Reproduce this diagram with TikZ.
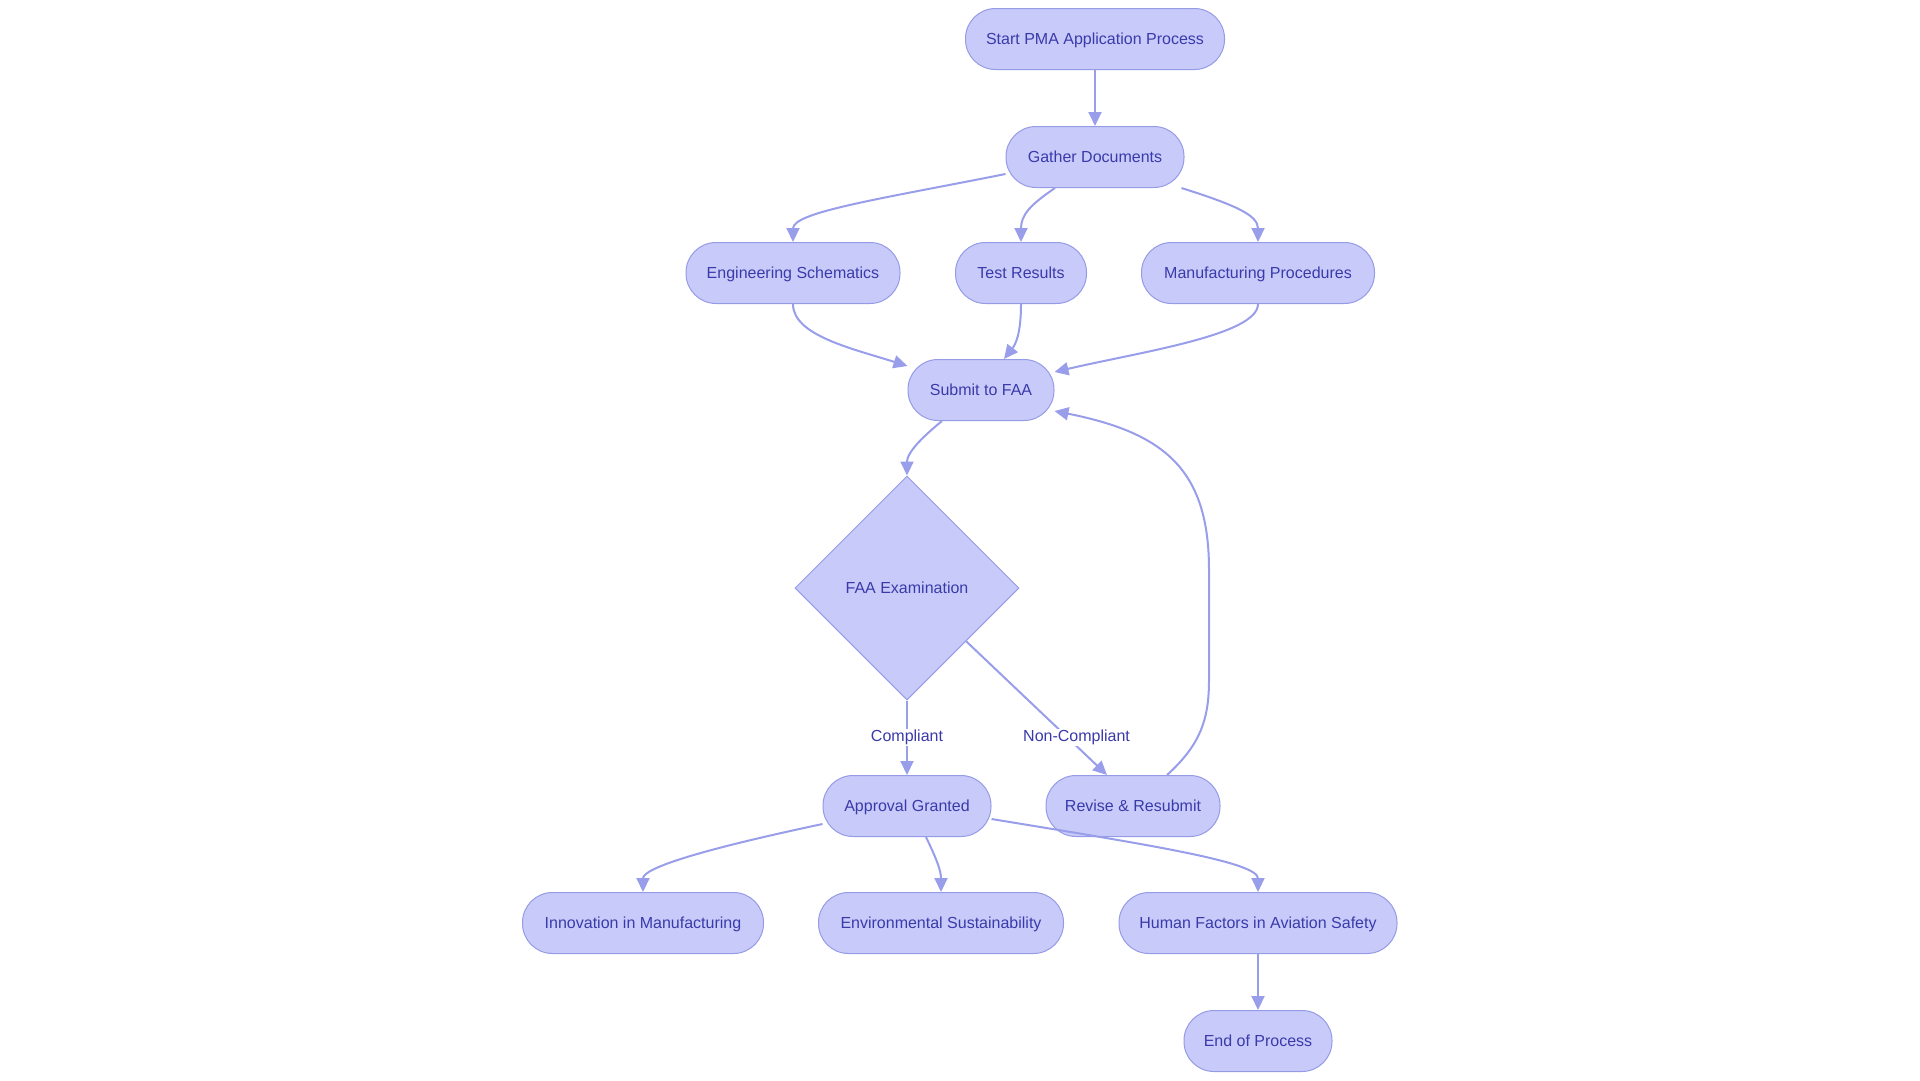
\documentclass[tikz,border=0pt]{standalone}
\usepackage{fontspec}
\setmainfont{Liberation Sans}
\usetikzlibrary{shapes.geometric,arrows.meta}
\definecolor{nfill}{RGB}{200,203,250}
\definecolor{nstroke}{RGB}{150,155,230}
\definecolor{ntext}{RGB}{58,58,170}
\definecolor{edgec}{RGB}{152,158,234}
\begin{document}
\begin{tikzpicture}[x=1pt,y=-1pt,
  box/.style={draw=nstroke, line width=1pt, fill=nfill, text=ntext, rounded corners=30pt,
    minimum height=61pt, inner sep=0pt, text depth=0pt, font=\fontsize{16}{19}\selectfont},
  dia/.style={diamond, aspect=1, draw=nstroke, line width=1pt, fill=nfill, text=ntext,
    minimum width=224pt, minimum height=224pt, inner sep=0pt, font=\fontsize{16}{19}\selectfont},
  link/.style={draw=edgec, line width=2pt, -{Triangle[length=14pt,width=13pt]}},
  lab/.style={fill=white, text=ntext, inner sep=1pt, font=\fontsize{16}{19}\selectfont}]
\useasboundingbox (0,0) rectangle (1920,1080);

\node[box, minimum width=259pt] (start) at (1095,39) {Start PMA Application Process};
\node[box, minimum width=178pt] (gath) at (1095,157) {Gather Documents};
\node[box, minimum width=214pt] (eng) at (793,273) {Engineering Schematics};
\node[box, minimum width=131pt] (test) at (1021,273) {Test Results};
\node[box, minimum width=233pt] (manu) at (1258,273) {Manufacturing Procedures};
\node[box, minimum width=146pt] (sub) at (981,390) {Submit to FAA};
\node[dia] (exam) at (907,588) {FAA Examination};
\node[box, minimum width=168pt] (appr) at (907,806) {Approval Granted};
\node[box, minimum width=174pt] (rev) at (1133,806) {Revise \& Resubmit};
\node[box, minimum width=241pt] (innov) at (643,923) {Innovation in Manufacturing};
\node[box, minimum width=245pt] (env) at (941,923) {Environmental Sustainability};
\node[box, minimum width=278pt] (hum) at (1258,923) {Human Factors in Aviation Safety};
\node[box, minimum width=148pt] (fin) at (1258,1041) {End of Process};

\draw[link] (start.south) -- (gath.north);
\draw[link] ([yshift=-17pt]gath.west) .. controls (880,199) and (793,212) .. (eng.north);
\draw[link] ([xshift=-40pt]gath.south) .. controls (1030,205) and (1021,215) .. (test.north);
\draw[link] ([xshift=-3pt]gath.south east) .. controls (1235,205) and (1258,215) .. (manu.north);
\draw[link] (eng.south) .. controls (793,335) and (850,348) .. ([yshift=-7pt]sub.north west);
\draw[link] (test.south) .. controls (1021,335) and (1015,345) .. ([xshift=23pt]sub.north);
\draw[link] (manu.south) .. controls (1258,335) and (1140,352) .. ([yshift=-13pt]sub.north east);
\draw[link] ([xshift=-39pt]sub.south) .. controls (915,443) and (907,455) .. (exam.north);
\draw[link] (exam.south) -- node[lab] {Compliant} (appr.north);
\draw[link] (exam.-42) -- node[lab, pos=0.72, xshift=9pt] {Non-Compliant} ([xshift=-26pt]rev.north);
\draw[link] ([xshift=34pt]rev.north) .. controls (1200,745) and (1209,720) .. (1209,680)
  -- (1209,570) .. controls (1209,470) and (1165,433) .. ([yshift=-21pt]sub.east);
\draw[link] ([yshift=-18pt]appr.west) .. controls (700,850) and (643,868) .. (innov.north);
\draw[link] ([xshift=19pt]appr.south) .. controls (936,858) and (941,870) .. (env.north);
\draw[link] ([yshift=-13pt]appr.east) .. controls (1150,845) and (1258,862) .. (hum.north);
\draw[link] (hum.south) -- (fin.north);
\end{tikzpicture}
\end{document}
